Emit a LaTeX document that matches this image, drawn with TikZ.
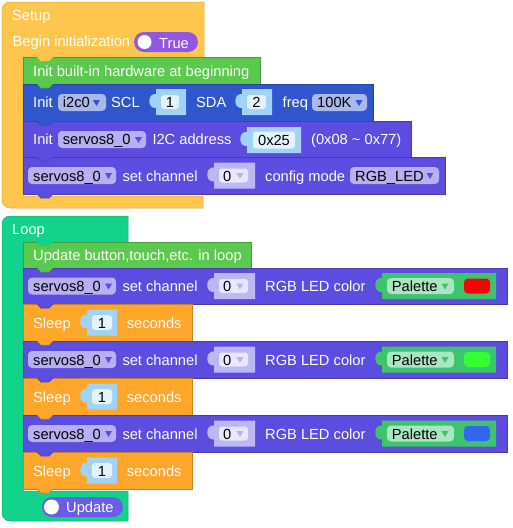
\documentclass[tikz,border=0pt]{standalone}
\usepackage{fontspec}
\setmainfont{Liberation Sans}
\definecolor{hatyellow}{HTML}{FEC64C}
\definecolor{loopgreen}{HTML}{13D28B}
\definecolor{initgreen}{HTML}{5BC94D}
\definecolor{i2cblue}{HTML}{2F56CC}
\definecolor{servo}{HTML}{5C4CE0}
\definecolor{sleeporange}{HTML}{FFA62B}
\definecolor{numblue}{HTML}{A1D3F6}
\definecolor{numfield}{HTML}{E4F2FC}
\definecolor{chanlav}{HTML}{BDB7F6}
\definecolor{chanfield}{HTML}{E9E7FC}
\definecolor{servofield}{HTML}{B8B0F3}
\definecolor{i2cfield}{HTML}{A9B9EC}
\definecolor{palgreen}{HTML}{3DC46D}
\definecolor{palfield}{HTML}{AAE6C1}
\definecolor{truepill}{HTML}{9157E3}
\definecolor{updatepill}{HTML}{6A5CE6}
\definecolor{swred}{HTML}{FF0000}
\definecolor{swgreen}{HTML}{33FF33}
\definecolor{swblue}{HTML}{3366F0}

\newcommand\valblock[5]{\fill[#5] (#1,#2) -- (#3,#2) -- (#3,#4) -- (#1,#4) -- (#1,#2+19)
  .. controls (#1-9,#2+20) and (#1-9,#2+4) .. (#1,#2+5) -- cycle;}
\newcommand\dropmark[3]{\fill[#3] (#1-3.5,#2-2.5) -- (#1+3.5,#2-2.5) -- (#1,#2+3.5) -- cycle;}

\begin{document}
\begin{tikzpicture}[
  x=1pt, y=-1pt,
  font=\fontsize{14.67}{17}\selectfont,
  hat/.style={fill=#1, draw=#1!85!black, line width=0.5pt},
  stmt/.style={fill=#1, draw=#1!78!black, line width=0.5pt},
  lbl/.style={anchor=base west, inner sep=0pt, text=white},
  fld/.style={anchor=base west, inner sep=0pt, text=black},
  num/.style={anchor=base, inner sep=0pt, text=black},
  field/.style={fill=#1, rounded corners=4pt},
  pill/.style={fill=#1, rounded corners=10pt}
]
\useasboundingbox (0,0) rectangle (513,528);

% Setup
\filldraw[hat=hatyellow] (2,10) arc[start angle=180,end angle=270,radius=8] -- (204,2) -- (204,57)
  -- (23,57) -- (23,196) -- (203,196) -- (203,208) -- (10,208) arc[start angle=90,end angle=180,radius=8] -- cycle;
\node[lbl] (setup) at (12,20.5) {Setup};
\node[lbl] (begin) at (12.5,46) {Begin initialization};
\fill[pill=truepill] (134,32) rectangle (198,52);
\fill[white] (144.5,42) circle[radius=7];
\node[lbl] (true) at (159,48.5) {True};

\filldraw[stmt=initgreen] (23,57) rectangle (260,84);
\node[lbl] (hwinit) at (33,76.5) {Init built-in hardware at beginning};

\filldraw[stmt=i2cblue] (23,84) rectangle (373,121);
\node[lbl] (initi2c) at (33,107.5) {Init};
\fill[field=i2cfield] (58,94) rectangle (106,111);
\node[fld] (i2c) at (62.7,107.5) {i2c0};
\dropmark{96.5}{102.5}{i2cblue}
\node[lbl] (scl) at (111,107.5) {SCL};
\valblock{156}{89}{186}{115}{numblue}
\fill[field=numfield, rounded corners=3pt] (161,95) rectangle (179,109);
\node[num] (sclval) at (170,107.5) {1};
\node[lbl] (sda) at (196,107.5) {SDA};
\valblock{242}{89}{272}{115}{numblue}
\fill[field=numfield, rounded corners=3pt] (247,95) rectangle (266,109);
\node[num] (sdaval) at (256.5,107.5) {2};
\node[lbl] (freq) at (282.5,107.5) {freq};
\fill[field=i2cfield] (312,94) rectangle (367,111);
\node[fld] (freqval) at (317,107.5) {100K};
\dropmark{359}{102.5}{i2cblue}

\filldraw[stmt=servo] (23,121) rectangle (411,157);
\node[lbl] (initservo) at (33,144.5) {Init};
\fill[field=servofield] (58,131) rectangle (146,148);
\node[fld] (servoname) at (62.7,144.5) {servos8\_0};
\dropmark{138.5}{139.5}{servo}
\node[lbl] (addr) at (152.3,144.5) {I2C address};
\valblock{247}{127}{301}{153}{numblue}
\fill[field=numfield, rounded corners=3pt] (253,131.5) rectangle (295,148.5);
\node[num] (addrval) at (274,145) {0x25};
\node[lbl] (range) at (311,144.5) {(0x08 \textasciitilde{} 0x77)};

\filldraw[stmt=servo] (23,157) rectangle (445,194);
\fill[field=servofield] (28,167) rectangle (116,184);
\node[fld] (servomode) at (33,181) {servos8\_0};
\dropmark{108.5}{175.5}{servo}
\node[lbl] (chanmode) at (122.3,181) {set channel};
\valblock{214}{162.5}{255}{188.5}{chanlav}
\fill[field=chanfield, rounded corners=3pt] (219,168.5) rectangle (248,182.5);
\node[fld] (chanmodeval) at (223,181) {0};
\dropmark{240}{175.5}{servofield}
\node[lbl] (config) at (265,181) {config mode};
\fill[field=servofield] (350,167) rectangle (439,184);
\node[fld] (mode) at (355,181) {RGB\_LED};
\dropmark{430}{175.5}{servo}

% Loop
\filldraw[hat=loopgreen] (2,224) arc[start angle=180,end angle=270,radius=8] -- (128,216) -- (128,242)
  -- (23,242) -- (23,491) -- (128,491) -- (128,521) -- (10,521) arc[start angle=90,end angle=180,radius=8] -- cycle;
\node[lbl] (loop) at (12,234) {Loop};
\fill[pill=updatepill] (42,497) rectangle (123,517);
\fill[white] (51.5,507) circle[radius=7.5];
\node[lbl] (update) at (66,512.5) {Update};

\filldraw[stmt=initgreen] (23,242) rectangle (251,268);
\node[lbl] (refresh) at (33,260.5) {Update button,touch,etc. in loop};

\foreach \ya/\yb/\sw in {268/304/swred, 341/378/swgreen, 415/452/swblue}{
  \pgfmathsetmacro\ym{(\ya+\yb)/2}
  \pgfmathsetmacro\ys{\yb+18.5}
  \filldraw[stmt=servo] (23,\ya) rectangle (507,\yb);
  \fill[field=servofield] (28,\ym-8.5) rectangle (116,\ym+8.5);
  \node[fld] (servo\ya) at (33,\ym+5.5) {servos8\_0};
  \dropmark{108.5}{\ym}{servo}
  \node[lbl] (chan\ya) at (122.3,\ym+5.5) {set channel};
  \valblock{214}{\ym-13}{255}{\ym+13}{chanlav}
  \fill[field=chanfield, rounded corners=3pt] (219,\ym-7) rectangle (248,\ym+7);
  \node[fld] (chanval\ya) at (223,\ym+5.5) {0};
  \dropmark{240}{\ym}{servofield}
  \node[lbl] (color\ya) at (265,\ym+5.5) {RGB LED color};
  \valblock{382}{\ym-13}{496}{\ym+13}{palgreen}
  \fill[field=palfield] (387,\ym-8) rectangle (454,\ym+8);
  \node[fld] (palette\ya) at (391.7,\ym+5.5) {Palette};
  \dropmark{445}{\ym}{palgreen}
  \fill[fill=\sw, rounded corners=4pt] (464,\ym-7.5) rectangle (490,\ym+7.5);
  \filldraw[stmt=sleeporange] (23,\yb) rectangle (192,\yb+37);
  \node[lbl] (sleep\ya) at (33,\ys+5.5) {Sleep};
  \valblock{87}{\ys-13}{117}{\ys+13}{numblue}
  \fill[field=numfield, rounded corners=3pt] (92,\ys-7.5) rectangle (112,\ys+7.5);
  \node[num] (secval\ya) at (102,\ys+5.5) {1};
  \node[lbl] (sec\ya) at (126.7,\ys+5.5) {seconds};
}

% notches
\fill[hatyellow] (36.7,56.7) -- (41,61) -- (49,61) -- (53.3,56.7) -- cycle;
\fill[loopgreen] (36.7,241.7) -- (41,246) -- (49,246) -- (53.3,241.7) -- cycle;
\foreach \y/\col in {84/initgreen, 121/i2cblue, 157/servo, 194/servo, 268/initgreen, 304/servo,
    341/sleeporange, 378/servo, 415/sleeporange, 452/servo, 489/sleeporange}{
  \fill[fill=\col] (36.7,\y-0.3) -- (41,\y+4) -- (49,\y+4) -- (53.3,\y-0.3) -- cycle;
  \draw[draw=\col!78!black, line width=0.5pt] (37,\y) -- (41,\y+4) -- (49,\y+4) -- (53,\y);
}
\end{tikzpicture}
\end{document}
